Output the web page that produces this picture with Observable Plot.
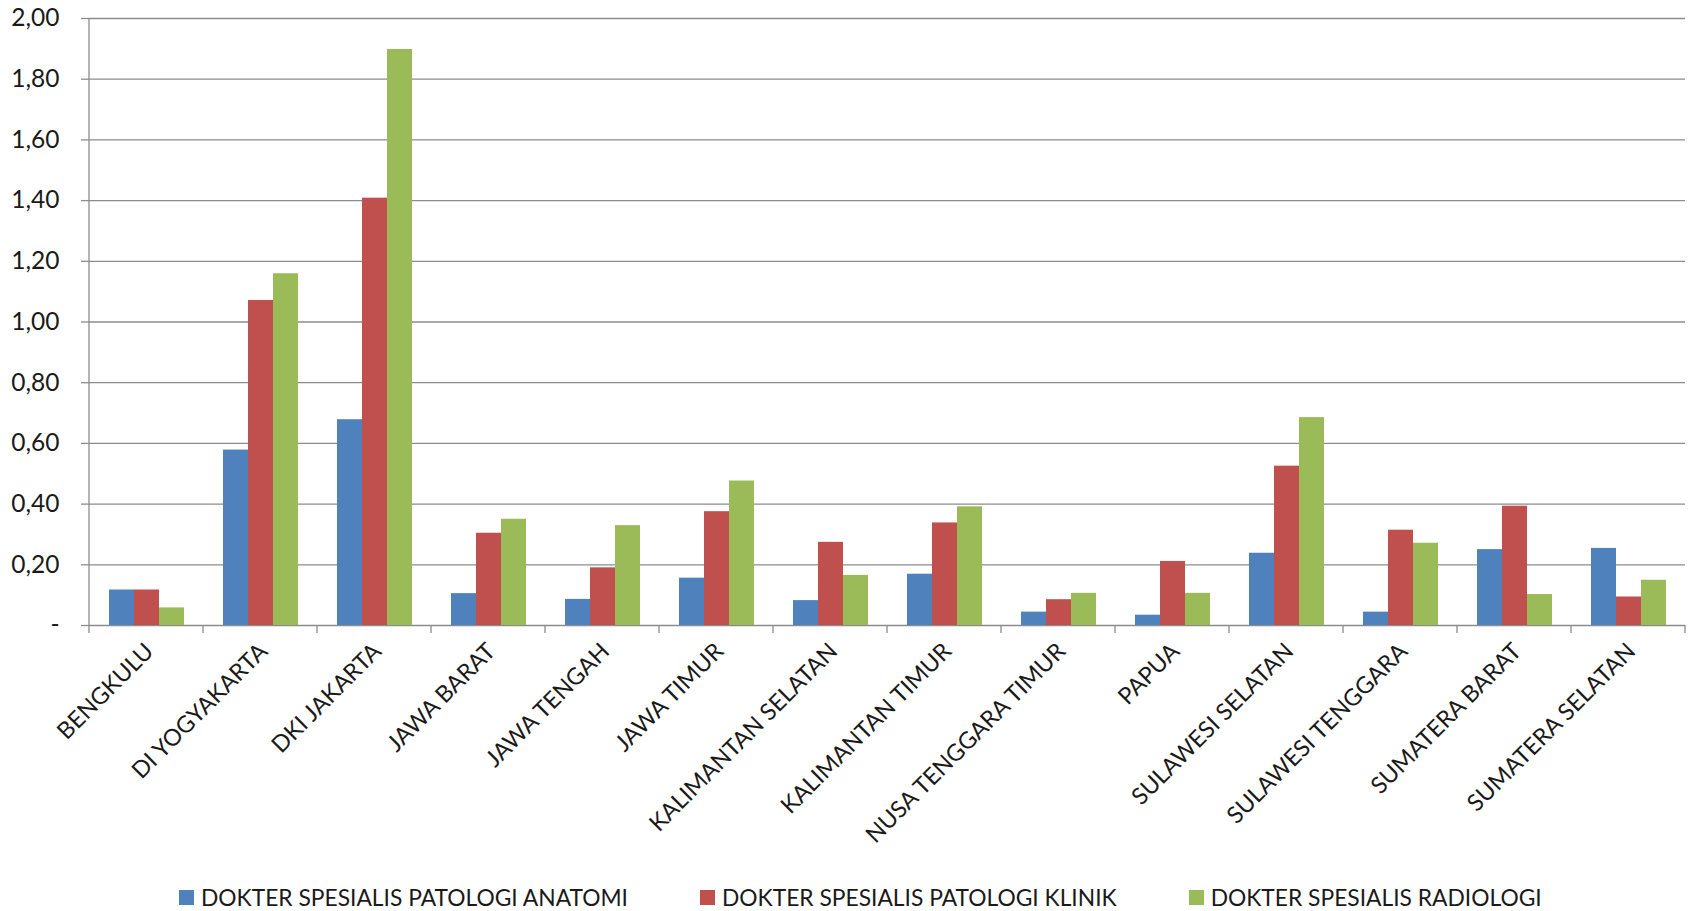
<!DOCTYPE html>
<html>
<head>
<meta charset="utf-8">
<script src="https://cdn.jsdelivr.net/npm/d3@7"></script>
<script src="https://cdn.jsdelivr.net/npm/@observablehq/plot@0.6"></script>
<style>
  html, body { margin: 0; padding: 0; background: #ffffff; }
  #chart { width: 1694px; }
  .legend {
    display: flex; align-items: center; gap: 72px;
    height: 30px; margin-top: 22px; padding-left: 179px;
    font-family: Lato, "Open Sans", sans-serif; font-size: 22.8px; color: #1a1a1a;
  }
  .legend .item { display: flex; align-items: center; gap: 7px; white-space: nowrap; }
  .legend .swatch { width: 15px; height: 15px; display: inline-block; }
</style>
</head>
<body>
<div id="chart"></div>
<script>
// Provinces along the category axis
const provinces = [
  "BENGKULU", "DI YOGYAKARTA", "DKI JAKARTA", "JAWA BARAT", "JAWA TENGAH",
  "JAWA TIMUR", "KALIMANTAN SELATAN", "KALIMANTAN TIMUR", "NUSA TENGGARA TIMUR",
  "PAPUA", "SULAWESI SELATAN", "SULAWESI TENGGARA", "SUMATERA BARAT", "SUMATERA SELATAN"
];

// Specialist groups (series) and their fill colours
const seriesNames = [
  "DOKTER SPESIALIS PATOLOGI ANATOMI",
  "DOKTER SPESIALIS PATOLOGI KLINIK",
  "DOKTER SPESIALIS RADIOLOGI"
];
const seriesColors = ["#4F81BD", "#C0504D", "#9BBB59"];

// Ratio values per province, one array per series
const patologiAnatomi = [0.117, 0.578, 0.678, 0.105, 0.086, 0.156, 0.082, 0.169, 0.044, 0.034, 0.238, 0.044, 0.250, 0.254];
const patologiKlinik  = [0.117, 1.071, 1.408, 0.304, 0.190, 0.375, 0.274, 0.338, 0.085, 0.211, 0.525, 0.314, 0.393, 0.094];
const radiologi       = [0.058, 1.159, 1.898, 0.350, 0.329, 0.476, 0.165, 0.391, 0.106, 0.106, 0.685, 0.271, 0.102, 0.149];

// Value axis ticks and their printed labels
const yTicks = [0, 0.2, 0.4, 0.6, 0.8, 1.0, 1.2, 1.4, 1.6, 1.8, 2.0];
const yTickLabels = ["-", "0,20", "0,40", "0,60", "0,80", "1,00", "1,20", "1,40", "1,60", "1,80", "2,00"];

const seriesValues = [patologiAnatomi, patologiKlinik, radiologi];
const rows = [];
provinces.forEach((p, i) => {
  seriesNames.forEach((s, j) => rows.push({province: p, series: s, value: seriesValues[j][i]}));
});

const gridColor = "#8c8c8c";
const font = "Lato, 'Open Sans', sans-serif";

const chart = Plot.plot({
  width: 1694,
  height: 860,
  marginTop: 18,
  marginLeft: 86,
  marginRight: 6,
  marginBottom: 235,
  style: {fontFamily: font, fontSize: "23.3px", color: "#1a1a1a", background: "#ffffff"},
  fx: {domain: provinces, padding: 0, label: null},
  x: {domain: seriesNames, paddingInner: 0, paddingOuter: 0.75, axis: null},
  y: {domain: [0, 2], label: null},
  color: {domain: seriesNames, range: seriesColors},
  marks: [
    Plot.ruleY(yTicks, {stroke: gridColor, strokeWidth: 1.3}),
    Plot.barY(rows, {fx: "province", x: "series", y: "value", fill: "series"}),
    Plot.axisY({
      ticks: yTicks,
      tickFormat: (d) => yTickLabels[yTicks.indexOf(d)],
      tickSize: 8,
      tickPadding: 22,
      stroke: gridColor,
      strokeWidth: 1.3,
      fontSize: 24.5,
      label: null
    }),
    Plot.axisFx({
      anchor: "bottom",
      tickRotate: -45,
      tickSize: 0,
      tickPadding: 22,
      dx: 3,
      label: null
    })
  ]
});

document.getElementById("chart").appendChild(chart);

// Vertical axis line and category boundary ticks, positioned from the plot's scales
const fx = chart.scale("fx");
const y = chart.scale("y");
const svg = d3.select(chart);
const y0 = y.apply(0);
const yTop = y.apply(2);
const bounds = provinces.map((p) => fx.apply(p)).concat([fx.apply(provinces[provinces.length - 1]) + fx.step]);
const g = svg.append("g").attr("stroke", gridColor).attr("stroke-width", 1.3);
g.append("line").attr("x1", bounds[0]).attr("x2", bounds[0]).attr("y1", yTop).attr("y2", y0 + 8);
g.selectAll("line.b").data(bounds.slice(1)).join("line")
  .attr("class", "b")
  .attr("x1", (d) => d).attr("x2", (d) => d)
  .attr("y1", y0).attr("y2", y0 + 8);

// Legend below the chart
const legend = d3.select("body").append("div").attr("class", "legend");
seriesNames.forEach((s, i) => {
  const item = legend.append("div").attr("class", "item");
  item.append("span").attr("class", "swatch").style("background", seriesColors[i]);
  item.append("span").text(s);
});
</script>
</body>
</html>
